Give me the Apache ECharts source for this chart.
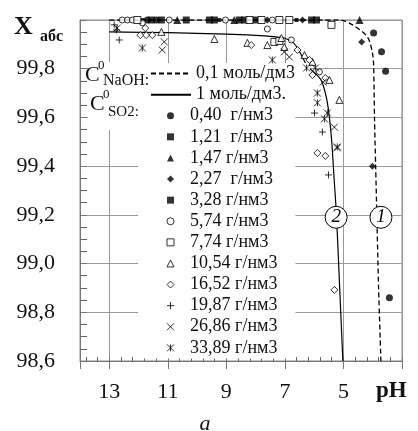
<!DOCTYPE html>
<html><head><meta charset="utf-8">
<script src="https://cdn.jsdelivr.net/npm/echarts@6/dist/echarts.min.js"></script>
<style>html,body{margin:0;padding:0;background:#fff}#c{width:418px;height:431px}</style>
</head><body><div id="c"></div>
<script>
// ---- data (pH, X_abs %) ----
const curve1Name = '0,1 моль/дм3';
const curve2Name = '1 моль/дм3.';
const curve1 = [[13,100],[5.14,100],[4.69,99.98],[4.18,99.93],[4.01,99.865],[3.97,99.815],[3.94,99.6],[3.90,99.4],[3.86,99.2],[3.80,98.9],[3.72,98.6]];
const curve2 = [[13,99.951],[11,99.948],[9,99.942],[8,99.937],[7.5,99.933],[7,99.925],[6.7,99.905],[6.5,99.87],[6.23,99.81],[5.95,99.78],[5.75,99.75],[5.58,99.68],[5.48,99.6],[5.40,99.5],[5.32,99.35],[5.24,99.2],[5.14,98.93],[5.02,98.6]];

const names = ['0,40  г/нм3','1,21  г/нм3','1,47 г/нм3','2,27  г/нм3','3,28 г/нм3','5,74 г/нм3','7,74 г/нм3','10,54 г/нм3','16,52 г/нм3','19,87 г/нм3','26,86 г/нм3','33,89 г/нм3'];
const s040 = [[11.70,100],[11.39,100],[3.97,99.947],[3.70,99.87],[3.56,99.79],[3.43,98.86]];
const s121 = [[11.56,100],[11.22,100],[10.37,100],[9.58,100],[9.41,100],[8.56,100],[8.38,100],[8.01,100],[6.09,100],[5.92,100]];
const s147 = [[10.68,100],[8.73,100],[4.45,100]];
const s227 = [[7.60,100],[6.40,100],[4.38,99.91],[4.01,99.40]];
const s328 = [[11.87,100],[9.24,100],[6.6,100]];
const s574 = [[12.56,100],[12.38,100],[12.21,100],[10.95,100],[9.03,100],[7.43,100],[7.60,99.963],[11.87,99.988],[6.78,99.918],[5.82,99.787]];
const s774 = [[12.04,100],[8.21,100],[7.80,100],[7.19,100],[6.85,100],[5.41,99.98],[7.36,99.91],[7.19,99.914]];
const s1054 = [[11.22,99.951],[9.41,99.922],[8.28,99.906],[7.60,99.897],[7.12,99.926],[7.02,99.889],[6.33,99.856],[6.06,99.828],[5.48,99.754],[5.14,99.672]];
const s1652 = [[11.94,99.938],[11.74,99.938],[11.53,99.938],[11.77,99.967],[8.15,99.897],[6.57,99.877],[6.16,99.836],[6.06,99.774],[5.62,99.762],[5.89,99.454],[5.62,99.442],[5.31,98.892]];
const s1987 = [[12.83,99.98],[12.76,99.959],[12.66,99.918],[5.99,99.618],[5.72,99.54],[5.51,99.364]];
const s2686 = [[11.12,99.91],[11.19,99.877],[7.02,99.869],[6.85,99.848],[5.69,99.745],[5.31,99.56],[5.21,99.475]];
const s3389 = [[12.73,99.967],[11.87,99.885],[7.43,99.836],[6.26,99.803],[5.96,99.803],[5.89,99.70],[5.89,99.66],[5.55,99.618],[5.65,99.594],[5.21,99.479]];
const seriesData = [s040,s121,s147,s227,s328,s574,s774,s1054,s1652,s1987,s2686,s3389];

// ---- styles ----
const F = 'Liberation Serif';
const filled = {color:'#000', borderColor:'#000', borderWidth:0};
const open = {color:'#fff', borderColor:'#000', borderWidth:1};
const stroke = {color:'rgba(0,0,0,0)', borderColor:'#000', borderWidth:1};
const marks = [
  {symbol:'circle', size:7, style:filled},
  {symbol:'rect', size:7, style:filled},
  {symbol:'triangle', size:8, style:filled},
  {symbol:'diamond', size:7, style:filled},
  {symbol:'rect', size:4, style:filled},
  {symbol:'circle', size:6, style:open},
  {symbol:'rect', size:7, style:open},
  {symbol:'triangle', size:7, style:open},
  {symbol:'diamond', size:7, style:open},
  {symbol:'path://M0,5H10M5,0V10', size:7, style:stroke},
  {symbol:'path://M0,0L10,10M10,0L0,10', size:7, style:stroke},
  {symbol:'path://M0,0L10,10M10,0L0,10M5,0V10', size:7, style:stroke}
];

const series = [
  {name:curve1Name, type:'line', data:curve1, symbol:'none', showSymbol:false, smooth:0.3,
   lineStyle:{color:'#000', width:1.3, type:[5,3]}, itemStyle:{color:'#000'}, z:3,
   markPoint:{symbol:'circle', symbolSize:22, itemStyle:{color:'#fff', borderColor:'#000', borderWidth:1},
     label:{show:true, position:'inside', formatter:'1', fontStyle:'italic', fontSize:19, fontFamily:F, color:'#000'},
     data:[{coord:[3.72,99.19]}]}},
  {name:curve2Name, type:'line', data:curve2, symbol:'none', showSymbol:false, smooth:0.3,
   lineStyle:{color:'#000', width:1.2}, itemStyle:{color:'#000'}, z:3,
   markPoint:{symbol:'circle', symbolSize:22, itemStyle:{color:'#fff', borderColor:'#000', borderWidth:1},
     label:{show:true, position:'inside', formatter:'2', fontStyle:'italic', fontSize:19, fontFamily:F, color:'#000'},
     data:[{coord:[5.25,99.19]}]}}
];
seriesData.forEach((d,i)=>{
  series.push({name:names[i], type:'scatter', data:d, symbol:marks[i].symbol, symbolSize:marks[i].size,
    symbolKeepAspect:true, itemStyle:marks[i].style, z:4});
});

const lineLegend = [curve1Name, curve2Name].map(n=>({name:n, itemStyle:{opacity:0, borderWidth:0}}));
const scatterLegend = names.map((n,i)=>({name:n, itemStyle:{borderWidth:marks[i].style.borderWidth}}));

const chart = echarts.init(document.getElementById('c'), null, {renderer:'canvas'});
chart.setOption({
  animation:false,
  backgroundColor:'#fff',
  grid:{left:80, right:16, top:20, bottom:70, show:true, borderColor:'#888', borderWidth:1},
  xAxis:[
    {type:'value', min:3, max:14, interval:2, inverse:true, position:'bottom',
     axisLine:{show:true, lineStyle:{color:'#777'}},
     axisTick:{show:true, length:8, inside:false, lineStyle:{color:'#777'}},
     axisLabel:{formatter:v=>(v===3||v===14)?'':String(v), margin:20, fontSize:22, fontFamily:F, color:'#111'},
     splitLine:{show:true, lineStyle:{color:'#999'}}},
    {type:'value', min:3, max:14, interval:2, inverse:true, position:'bottom',
     axisLine:{show:false}, axisTick:{show:true, inside:true, length:4, lineStyle:{color:'#777'}},
     axisLabel:{show:false}, splitLine:{show:false},
     minorTick:{show:true, splitNumber:5, length:4, lineStyle:{color:'#666'}}}
  ],
  yAxis:[
    {type:'value', min:98.6, max:100, interval:0.2,
     axisLine:{show:true, lineStyle:{color:'#777'}},
     axisTick:{show:true, inside:true, length:7, lineStyle:{color:'#777'}},
     minorTick:{show:true, splitNumber:4, length:7, lineStyle:{color:'#666'}},
     axisLabel:{formatter:v=>v>99.95?'':v.toFixed(1).replace('.',','), margin:25, fontSize:22, fontFamily:F, color:'#111'},
     splitLine:{show:true, lineStyle:{color:'#999'}}}
  ],
  legend:[
    {orient:'vertical', left:138, top:63, padding:[0,15,0,12], itemGap:0, itemWidth:40, itemHeight:7,
     backgroundColor:'#fff', selectedMode:false,
     textStyle:{fontFamily:F, fontSize:18, color:'#111', lineHeight:21.1},
     data:lineLegend},
    {orient:'vertical', left:138, top:105.2, padding:[0,18,0,28.5], itemGap:0, itemWidth:7, itemHeight:7,
     backgroundColor:'#fff', selectedMode:false,
     textStyle:{fontFamily:F, fontSize:18, color:'#111', lineHeight:21.1, padding:[0,0,0,11]},
     data:scatterLegend}
  ],
  graphic:[
    {type:'rect', z:10, shape:{x:88, y:62, width:50, height:68}, style:{fill:'#fff'}},
    {type:'text', z:11, style:{x:85, y:75, text:'C', fontSize:22, fontFamily:F, fill:'#111', verticalAlign:'middle'}},
    {type:'text', z:11, style:{x:98, y:66, text:'0', fontSize:13, fontFamily:F, fill:'#111', verticalAlign:'middle'}},
    {type:'text', z:11, style:{x:103, y:81, text:'NaOH:', fontSize:16, fontFamily:F, fill:'#111', verticalAlign:'middle'}},
    {type:'text', z:11, style:{x:90, y:104, text:'C', fontSize:22, fontFamily:F, fill:'#111', verticalAlign:'middle'}},
    {type:'text', z:11, style:{x:103, y:95, text:'0', fontSize:13, fontFamily:F, fill:'#111', verticalAlign:'middle'}},
    {type:'text', z:11, style:{x:108, y:112, text:'SO2:', fontSize:15, fontFamily:F, fill:'#111', verticalAlign:'middle'}},
    {type:'text', z:11, style:{x:14, y:27, text:'X', fontSize:26, fontWeight:'bold', fontFamily:F, fill:'#111', verticalAlign:'middle'}},
    {type:'text', z:11, style:{x:40, y:37, text:'абс', fontSize:16, fontWeight:'bold', fontFamily:F, fill:'#111', verticalAlign:'middle'}},
    {type:'text', z:11, style:{x:376, y:391, text:'pH', fontSize:23, fontWeight:'bold', fontFamily:F, fill:'#111', verticalAlign:'middle'}},
    {type:'text', z:11, style:{x:205, y:424, text:'a', fontSize:22, fontStyle:'italic', fontFamily:F, fill:'#111', align:'center', verticalAlign:'middle'}}
  ],
  series:series
});
</script>
</body></html>
